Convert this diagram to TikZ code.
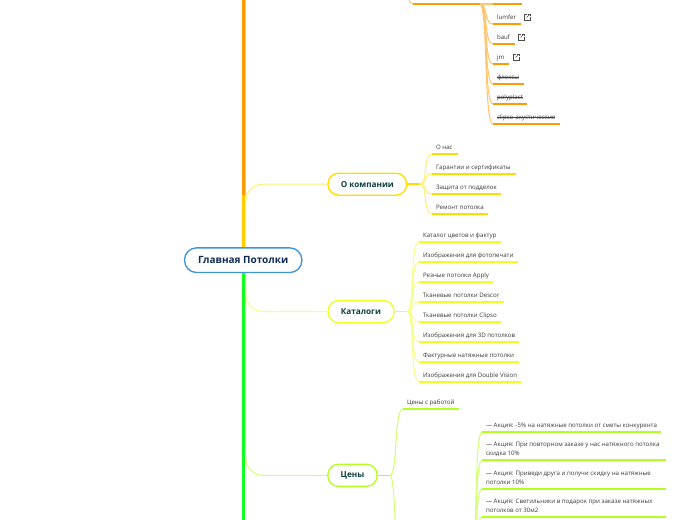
\documentclass[tikz,border=0pt]{standalone}
\usepackage{fontspec}
\setmainfont{Open Sans}
\usetikzlibrary{positioning,calc}
\definecolor{orangeA}{HTML}{FF9900}
\definecolor{orangeB}{HTML}{FFC670}
\definecolor{yellowA}{HTML}{FFDD00}
\definecolor{yellowB}{HTML}{FFEE77}
\definecolor{yellowT}{HTML}{FFCC00}
\definecolor{limeA}{HTML}{EEFF22}
\definecolor{limeB}{HTML}{F6FF88}
\definecolor{greenA}{HTML}{B3FF22}
\definecolor{greenB}{HTML}{D2FF77}
\definecolor{spineG}{HTML}{11FF22}
\definecolor{rootline}{HTML}{3D94D6}
\definecolor{rootink}{HTML}{0F2B57}
\definecolor{topicink}{HTML}{0D3F3F}
\tikzset{
  leaf/.style={anchor=south west, inner xsep=3pt, inner ysep=1.5pt, outer sep=0pt,
    align=left, text=black!78,
    font=\fontsize{4.6}{6.9}\selectfont,
    execute at begin node=\strut, execute at end node=\strut},
  topic/.style={draw=#1, line width=1pt, fill=white, rounded corners=8pt, minimum height=16.5pt,
    inner xsep=0pt, text=topicink, font=\fontsize{6.15}{8}\selectfont\bfseries},
  leaflink/.style={out=0, in=180, out distance=6pt, in distance=7pt, line width=0.8pt},
  underline/.style={line width=1.1pt},
  trunk/.style={line width=2.3pt},
  branch/.style={line width=0.8pt, rounded corners=13pt},
  linkicon/.style={draw=black!70, line width=0.5pt}
}
\begin{document}
\begin{tikzpicture}[x=0.75pt,y=-0.75pt]
  \useasboundingbox (0,0) rectangle (696,520);
  \clip (0,0) rectangle (696,520);

  % Main nodes
  \node[draw=rootline, line width=1pt, fill=white, rounded corners=9pt, minimum width=88pt, minimum height=18.5pt,
        inner sep=0pt, text=rootink, font=\fontsize{7.5}{9}\selectfont\bfseries] (root) at (243.2,260.2) {Главная Потолки};
  \node[topic=yellowA, minimum width=59pt] (company) at (367.3,184.2) {О компании};
  \node[topic=limeA, minimum width=49.5pt] (catalogs) at (361,311.5) {Каталоги};
  \node[topic=greenA, minimum width=37pt] (prices) at (352.5,475.3) {Цены};

  % Free ends outside the page
  \coordinate (spinetop) at (243.5,-6);
  \coordinate (spinemid) at (243.5,195);
  \coordinate (spinebot) at (243.5,526);
  \coordinate (lighttop) at (245.7,-6);
  \coordinate (lightmid) at (245.7,196);
  \coordinate (topfrom) at (404,-30);
  \coordinate (pricesmore) at (404,650);
  \coordinate (promofrom) at (470,610);

  % Hubs
  \coordinate (tophub) at (480,4);
  \coordinate (companyhub) at (420,184.2);
  \coordinate (catalogshub) at (407,311.5);
  \coordinate (priceshub) at (390,475.3);

  % Trunk
  \draw[branch, draw=orangeB] (lightmid) -- (lighttop);
  \draw[branch, draw=yellowB] (root.north -| lightmid) |- (company.west);
  \draw[branch, draw=limeB] (root.south -| lightmid) |- (catalogs.west);
  \draw[branch, draw=greenB] (root.south -| lightmid) |- (prices.west);
  \draw[trunk, draw=orangeA] (spinemid) -- (spinetop);
  \draw[trunk, draw=yellowT] (root.north -| spinemid) -- (spinemid);
  \draw[trunk, draw=spineG] (root.south -| spinebot) -- (spinebot);

  % Stems from the topics
  \draw[yellowA, underline] (company.east) -- (companyhub);
  \draw[limeA, line width=1.4pt] (catalogs.east) -- (catalogshub);
  \draw[greenA, line width=0.8pt] (prices.east) -- (priceshub);
  \draw[greenB, leaflink] (priceshub) to (pricesmore);

  % Top group
  \node[leaf] (topitem) at (413,4) {};
  \draw[orangeB, leaflink] (topfrom) to (topitem.south west);
  \draw[orangeA, underline] (topitem.south west) -- (tophub);
  \foreach \i/\y/\w/\t in {0/4/29/,1/24/28/lumfer,2/44/22/bauf,3/64/16/jm,
                           4/84/31/флексы,5/104/34/polyplast,6/124/67/clipso-акустические} {
    \node[leaf] (top\i) at (493,\y) {\t};
    \draw[orangeB, leaflink] (tophub) to (top\i.south west);
    \draw[orangeA, underline] (top\i.south west) -- ++(\w,0);
  }
  % Struck out items
  \foreach \i in {4,5,6} {
    \draw[black!75, line width=0.35pt] ([xshift=3pt]top\i.west) -- ([xshift=-3pt]top\i.east);
  }
  % External link marks
  \foreach \x/\y in {527/17,521/37,516/57} {
    \draw[linkicon] (\x,\y-2.5) -- (\x-3,\y-2.5) -- (\x-3,\y+3) -- (\x+3,\y+3) -- (\x+3,\y+0.5);
    \draw[linkicon] (\x-0.5,\y+0.5) -- (\x+3,\y-3);
    \draw[linkicon] (\x+0.5,\y-3) -- (\x+3,\y-3) -- (\x+3,\y-0.5);
  }

  % Company group
  \foreach \i/\y/\w/\t in {1/154/26/О нас,2/174/84/Гарантии и сертификаты,
                           3/194/69/Защита от подделок,4/214/56/Ремонт потолка} {
    \node[leaf] (company\i) at (432,\y) {\t};
    \draw[yellowB, leaflink] (companyhub) to (company\i.south west);
    \draw[yellowA, underline] (company\i.south west) -- ++(\w,0);
  }

  % Catalogs group
  \foreach \i/\y/\w/\t in {1/242/82/Каталог цветов и фактур,2/262/99/Изображения для фотопечати,
                           3/282/74/Резные потолки Apply,4/302/85/Тканевые потолки Descor,
                           5/322/82/Тканевые потолки Clipso,6/342/100/Изображения для 3D потолков,
                           7/362/100/Фактурные натяжные потолки,8/382/102/Изображения для Double Vision} {
    \node[leaf] (catalog\i) at (419,\y) {\t};
    \draw[limeB, leaflink] (catalogshub) to (catalog\i.south west);
    \draw[limeA, underline] (catalog\i.south west) -- ++(\w,0);
  }

  % Prices group
  \node[leaf] (price1) at (403,409) {Цены с работой};
  \draw[greenB, leaflink] (priceshub) to (price1.south west);
  \draw[greenA, underline] (price1.south west) -- ++(56,0);

  % Promo group
  \foreach \i/\y/\w/\t in {1/432/179/{— Акция: -5\% на натяжные потолки от сметы конкурента},
      2/460/184/{— Акция: При повторном заказе у нас натяжного потолка\\скидка 10\%},
      3/489/184/{— Акция: Приведи друга и получи скидку на натяжные\\потолки 10\%},
      4/517/184/{— Акция: Светильники в подарок при заказе натяжных\\потолков от 30м2}} {
    \node[leaf] (promo\i) at (482,\y) {\t};
    \draw[greenB, leaflink] (promofrom) to (promo\i.south west);
    \draw[greenA, underline] (promo\i.south west) -- ++(\w,0);
  }
\end{tikzpicture}
\end{document}
